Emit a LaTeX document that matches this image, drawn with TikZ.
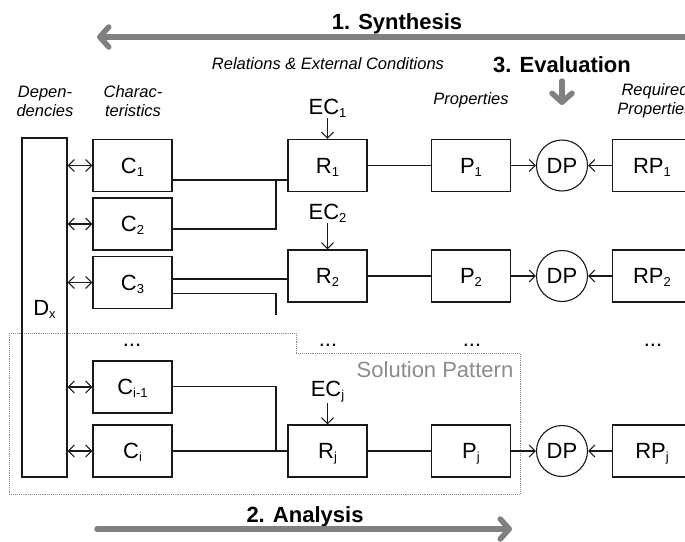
\documentclass[tikz,border=0pt]{standalone}
\usepackage{fontspec}
\setmainfont{Liberation Sans}
\usetikzlibrary{arrows.meta,calc}
\definecolor{arrowgray}{HTML}{808080}
\definecolor{patgray}{HTML}{8C8C8C}
\newcommand\bigf{\fontsize{22}{26}\selectfont}
\newcommand\sbx[1]{\raisebox{-3pt}{\fontsize{13}{14}\selectfont #1}}
\begin{document}
\begin{tikzpicture}[x=1pt,y=-1pt,
  ln/.style={line width=1.1pt, draw=black!90},
  bx/.style={ln, rectangle, minimum width=79pt, minimum height=52pt, inner sep=0pt, font=\bigf, text height=15.8pt, text depth=0pt},
  dpc/.style={ln, circle, minimum size=51pt, inner sep=0pt, font=\bigf, text height=15.8pt, text depth=0pt},
  txt/.style={font=\bigf, anchor=base, inner sep=1pt},
  ar/.style={ln, -{Straight Barb[length=6pt,width=12pt]}},
  dar/.style={ln, {Straight Barb[length=6pt,width=12pt]}-{Straight Barb[length=6pt,width=12pt]}},
  garrow/.style={line width=5.5pt, draw=arrowgray, line cap=round, -{Straight Barb[length=9pt,width=20pt,round]}},
  hd/.style={font=\bfseries\bigf, anchor=base, inner sep=0pt},
  lbl/.style={font=\itshape\fontsize{16.5}{19}\selectfont, anchor=base, inner sep=0pt},
  dots/.style={font=\bigf, anchor=base, inner sep=0pt},
]
\useasboundingbox (0,0) rectangle (685,541);
\clip (0,0) rectangle (685,541);

% solution pattern region
\draw[densely dotted, draw=black!45, line width=0.9pt]
  (9,333) -- (296,333) -- (296,353.5) -- (520,353.5) -- (520,494) -- (9,494) -- cycle;
\node[font=\bigf, text=patgray, anchor=base, inner sep=0pt] (sp) at (435,377) {Solution Pattern};

% headers
\node[hd] (syn) at (397,29.5) {1. Synthesis};
\node[hd] (eva) at (562,72) {3. Evaluation};
\node[hd] (ana) at (305,522) {2. Analysis};
\node[lbl] (rel) at (328,69) {Relations \& External Conditions};
\node[lbl] (dep) at (45,97) {\begin{tabular}[t]{@{}c@{}}Depen-\\dencies\end{tabular}};
\node[lbl] (cha) at (133,97) {\begin{tabular}[t]{@{}c@{}}Charac-\\teristics\end{tabular}};
\node[lbl] (pro) at (471,104) {Properties};
\node[lbl] (req) at (655,95) {\begin{tabular}[t]{@{}c@{}}Required\\Properties\end{tabular}};

% gray arrows
\coordinate (synA) at (700,37);
\coordinate (synB) at (97,37);
\draw[garrow] (synA) -- (synB);
\coordinate (evaA) at (562,81);
\coordinate (evaB) at (562,105);
\draw[garrow] (evaA) -- (evaB);
\coordinate (anaA) at (97,529);
\coordinate (anaB) at (512,529);
\draw[garrow] (anaA) -- (anaB);

% dependencies box
\node[bx, minimum width=45pt, minimum height=339pt] (d) at (44.5,307.5) {D\sbx{x}};

% characteristics
\node[bx] (c1)  at (132.5,165.5) {C\sbx{1}};
\node[bx] (c2)  at (132.5,224)   {C\sbx{2}};
\node[bx] (c3)  at (132.5,282.5) {C\sbx{3}};
\node[bx] (ci1) at (132.5,387)   {C\sbx{i-1}};
\node[bx] (ci)  at (132.5,451)   {C\sbx{i}};

% relations
\node[bx] (r1) at (327.5,165.5) {R\sbx{1}};
\node[bx] (r2) at (327.5,276)   {R\sbx{2}};
\node[bx] (rj) at (327.5,451)   {R\sbx{j}};

% external conditions
\node[txt] (ec1) at (327.5,114) {EC\sbx{1}};
\node[txt] (ec2) at (327.5,219) {EC\sbx{2}};
\node[txt] (ecj) at (327.5,396) {EC\sbx{j}};
\draw[ar] (ec1.south) -- (r1.north);
\draw[ar] (ec2.south) -- (r2.north);
\draw[ar] (ecj.south) -- (rj.north);

% properties
\node[bx] (p1) at (471,165.5) {P\sbx{1}};
\node[bx] (p2) at (471,276)   {P\sbx{2}};
\node[bx] (pj) at (471,451)   {P\sbx{j}};

% DP circles
\node[dpc] (dp1) at (562,165.5) {DP};
\node[dpc] (dp2) at (562,276)   {DP};
\node[dpc] (dpj) at (562,451)   {DP};

% required properties
\node[bx] (rp1) at (652,165.5) {RP\sbx{1}};
\node[bx] (rp2) at (652,276)   {RP\sbx{2}};
\node[bx] (rpj) at (652,451)   {RP\sbx{j}};

% dots
\node[dots] (dc) at (132,346) {...};
\node[dots] (dr) at (328,346) {...};
\node[dots] (dpp) at (472,346) {...};
\node[dots] (drp) at (653,346) {...};

% double arrows D <-> C
\draw[dar] (d.east |- c1) -- (c1.west);
\draw[dar] (d.east |- c2) -- (c2.west);
\draw[dar] (d.east |- c3) -- (c3.west);
\draw[dar] (d.east |- ci1) -- (ci1.west);
\draw[dar] (d.east |- ci) -- (ci.west);

% C -> R connections
\coordinate (j1) at (276,180);
\coordinate (j2) at (276,229);
\draw[ln] (c1.east |- j1) -- (r1.west |- j1);
\draw[ln] (c2.east |- j2) -- (j2) -- (j1);
\coordinate (k1) at (276,279);
\coordinate (k2) at (276,293.5);
\coordinate (k3) at (276,315);
\draw[ln] (c3.east |- k1) -- (r2.west |- k1);
\draw[ln] (c3.east |- k2) -- (k2) -- (k3);
\coordinate (m1) at (276,386.5);
\coordinate (m2) at (276,451);
\draw[ln] (ci1.east |- m1) -- (m1) -- (m2);
\draw[ln] (ci.east) -- (rj.west);

% R - P
\draw[ln] (r1) -- (p1);
\draw[ln] (r2) -- (p2);
\draw[ln] (rj) -- (pj);

% P -> DP <- RP
\draw[ar] (p1) -- (dp1);
\draw[ar] (p2) -- (dp2);
\draw[ar] (pj) -- (dpj);
\draw[ar] (rp1) -- (dp1);
\draw[ar] (rp2) -- (dp2);
\draw[ar] (rpj) -- (dpj);
\end{tikzpicture}
\end{document}
